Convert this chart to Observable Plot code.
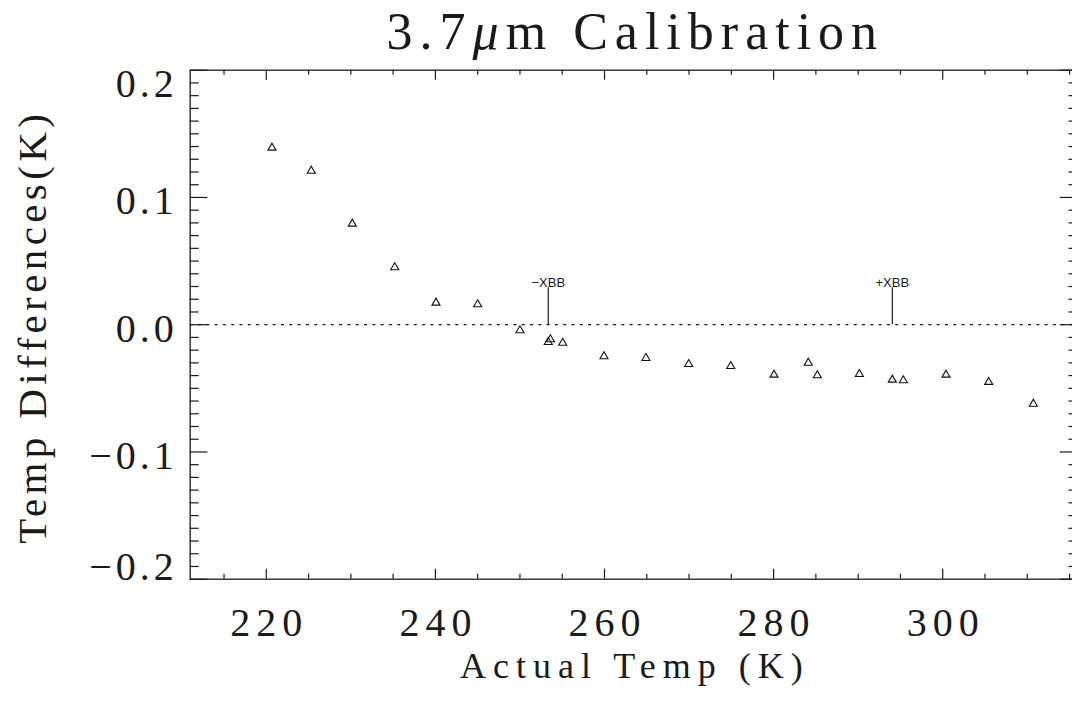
<!DOCTYPE html>
<html>
<head>
<meta charset="utf-8">
<script src="https://cdn.jsdelivr.net/npm/d3@7"></script>
<script src="https://cdn.jsdelivr.net/npm/@observablehq/plot@0.6"></script>
<style>
  html, body { margin: 0; padding: 0; background: #fff; overflow: hidden; }
</style>
</head>
<body>
<div id="chart"></div>
<script>
// ---- data ----
const actualTemp = [220.67, 225.32, 230.17, 235.19, 240.07, 245.0, 250.0, 253.35, 253.6, 255.06, 259.94, 264.9,
                    269.96, 274.93, 280.05, 284.1, 285.17, 290.14, 294.04, 295.34, 300.39, 305.44, 310.72];
const tempDiff = [0.139, 0.1209, 0.0793, 0.0450, 0.0172, 0.0159, -0.0045, -0.0137, -0.0116, -0.0143, -0.0249, -0.0263,
                  -0.0310, -0.0326, -0.0394, -0.0300, -0.0399, -0.0389, -0.0433, -0.0438, -0.0394, -0.0451, -0.0622];
const xbbTemp = [253.35, 294.04];
const xbbLabel = ["\u2212XBB", "+XBB"];
const xbbTop = 0.029;
const xbbLabelY = 0.033;

const xMajorTicks = [220, 240, 260, 280, 300];
const xMinorTicks = [215, 225, 230, 235, 245, 250, 255, 265, 270, 275, 285, 290, 295, 305, 310, 315];
const yMajorTicks = [-0.2, -0.1, 0, 0.1, 0.2];
const yMinorTicks = [-0.19, -0.18, -0.17, -0.16, -0.15, -0.14, -0.13, -0.12, -0.11,
                     -0.09, -0.08, -0.07, -0.06, -0.05, -0.04, -0.03, -0.02, -0.01,
                     0.01, 0.02, 0.03, 0.04, 0.05, 0.06, 0.07, 0.08, 0.09,
                     0.11, 0.12, 0.13, 0.14, 0.15, 0.16, 0.17, 0.18, 0.19];
const yLabelInner = [-0.1, 0, 0.1];
const yLabelTop = [0.2];
const yLabelBottom = [-0.2];

const titleText = "3.7\u03BCm Calibration";
const xTitle = "Actual Temp (K)";
const yTitle = "Temp Differences(K)";

// ---- tables ----
const points = actualTemp.map((t, i) => ({t, d: tempDiff[i]}));
const xbb = xbbTemp.map((t, i) => ({t, label: xbbLabel[i], y0: 0, top: xbbTop, ly: xbbLabelY}));

// ---- layout ----
const W = 1072, H = 702;
const mL = 189.7, mR = -5.5, mT = 69.7, mB = 123.3;
const pw = W - mL - mR, ph = H - mT - mB;
const ink = "#1a1a1a";
const fmt = d3.format(".1f");

const chart = Plot.plot({
  width: W, height: H,
  marginLeft: mL, marginRight: mR, marginTop: mT, marginBottom: mB,
  x: {domain: [211, 316], axis: null},
  y: {domain: [-0.2, 0.2], axis: null},
  style: {fontFamily: "'Liberation Serif', serif", background: "white", color: ink},
  marks: [
    Plot.ruleY([0], {stroke: ink, strokeWidth: 1.2, strokeDasharray: "3,5.3"}),
    // ticks (inward, all four sides)
    Plot.tickX(xMajorTicks, {x: d => d, insetTop: ph - 10, stroke: ink, strokeWidth: 1.2}),
    Plot.tickX(xMinorTicks, {x: d => d, insetTop: ph - 5, stroke: ink, strokeWidth: 1.2}),
    Plot.tickX(xMajorTicks, {x: d => d, insetBottom: ph - 10, stroke: ink, strokeWidth: 1.2}),
    Plot.tickX(xMinorTicks, {x: d => d, insetBottom: ph - 5, stroke: ink, strokeWidth: 1.2}),
    Plot.tickY(yMajorTicks, {y: d => d, insetRight: pw - 17.7, stroke: ink, strokeWidth: 1.2}),
    Plot.tickY(yMinorTicks, {y: d => d, insetRight: pw - 9, stroke: ink, strokeWidth: 1.2}),
    Plot.tickY(yMajorTicks, {y: d => d, insetLeft: pw - 17.7, stroke: ink, strokeWidth: 1.2}),
    Plot.tickY(yMinorTicks, {y: d => d, insetLeft: pw - 9, stroke: ink, strokeWidth: 1.2}),
    Plot.frame({stroke: ink, strokeWidth: 1.3}),
    // data
    Plot.dot(points, {x: "t", y: "d", symbol: "triangle", r: 3, stroke: "#111", strokeWidth: 1.1, fill: "none"}),
    // XBB markers
    Plot.ruleX(xbb, {x: "t", y1: "y0", y2: "top", stroke: ink, strokeWidth: 1.2}),
    Plot.text(xbb, {x: "t", y: "ly", text: "label", fontFamily: "'Liberation Sans', sans-serif",
                    fontSize: 13, fill: ink, lineAnchor: "middle"}),
    // tick labels
    Plot.text(yLabelInner, {y: d => d, text: d => fmt(d), frameAnchor: "left", textAnchor: "end",
                            dx: -12.4, dy: 4.2, fontSize: 40, fill: ink}),
    Plot.text(yLabelTop, {y: d => d, text: d => fmt(d), frameAnchor: "left", textAnchor: "end",
                          dx: -12.4, dy: 14.3, fontSize: 40, fill: ink}),
    Plot.text(yLabelBottom, {y: d => d, text: d => fmt(d), frameAnchor: "left", textAnchor: "end",
                             dx: -12.4, dy: -12.5, fontSize: 40, fill: ink}),
    Plot.text(xMajorTicks, {x: d => d, text: d => String(d), frameAnchor: "bottom", lineAnchor: "top",
                            textAnchor: "middle", dx: 3, dy: 27.9, fontSize: 40, fill: ink}),
    // titles
    Plot.text([xTitle], {text: d => d, frameAnchor: "bottom", lineAnchor: "top", textAnchor: "middle",
                         dx: 0.7, dy: 73, fontSize: 36, fill: ink}),
    Plot.text([yTitle], {text: d => d, frameAnchor: "left", lineAnchor: "top", textAnchor: "middle",
                         rotate: -90, dx: -173.8, dy: 2, fontSize: 41, fill: ink}),
    Plot.text([titleText], {text: d => d, frameAnchor: "top", lineAnchor: "top", textAnchor: "middle",
                            dx: 1.25, dy: -58.3, fontSize: 52, fill: ink})
  ]
});

document.getElementById("chart").appendChild(chart);

// letter spacing to imitate the wide Hershey-style lettering
const yLabSet = new Set(yMajorTicks.map(fmt));
const xLabSet = new Set(xMajorTicks.map(String));
d3.select(chart).selectAll("text").each(function () {
  const s = this.textContent;
  let ls = null;
  if (yLabSet.has(s)) ls = 4;
  else if (xLabSet.has(s)) ls = 6;
  else if (s === xTitle) ls = 7;
  else if (s === yTitle) ls = 4.4;
  else if (s === titleText) ls = 7;
  if (ls !== null) this.style.letterSpacing = ls + "px";
  if (s === titleText) {
    const t = d3.select(this);
    const i = s.indexOf("\u03BC");
    t.text(null);
    t.append("tspan").text(s.slice(0, i));
    t.append("tspan").attr("font-style", "italic").text("\u03BC");
    t.append("tspan").text(s.slice(i + 1));
  }
});
</script>
</body>
</html>
